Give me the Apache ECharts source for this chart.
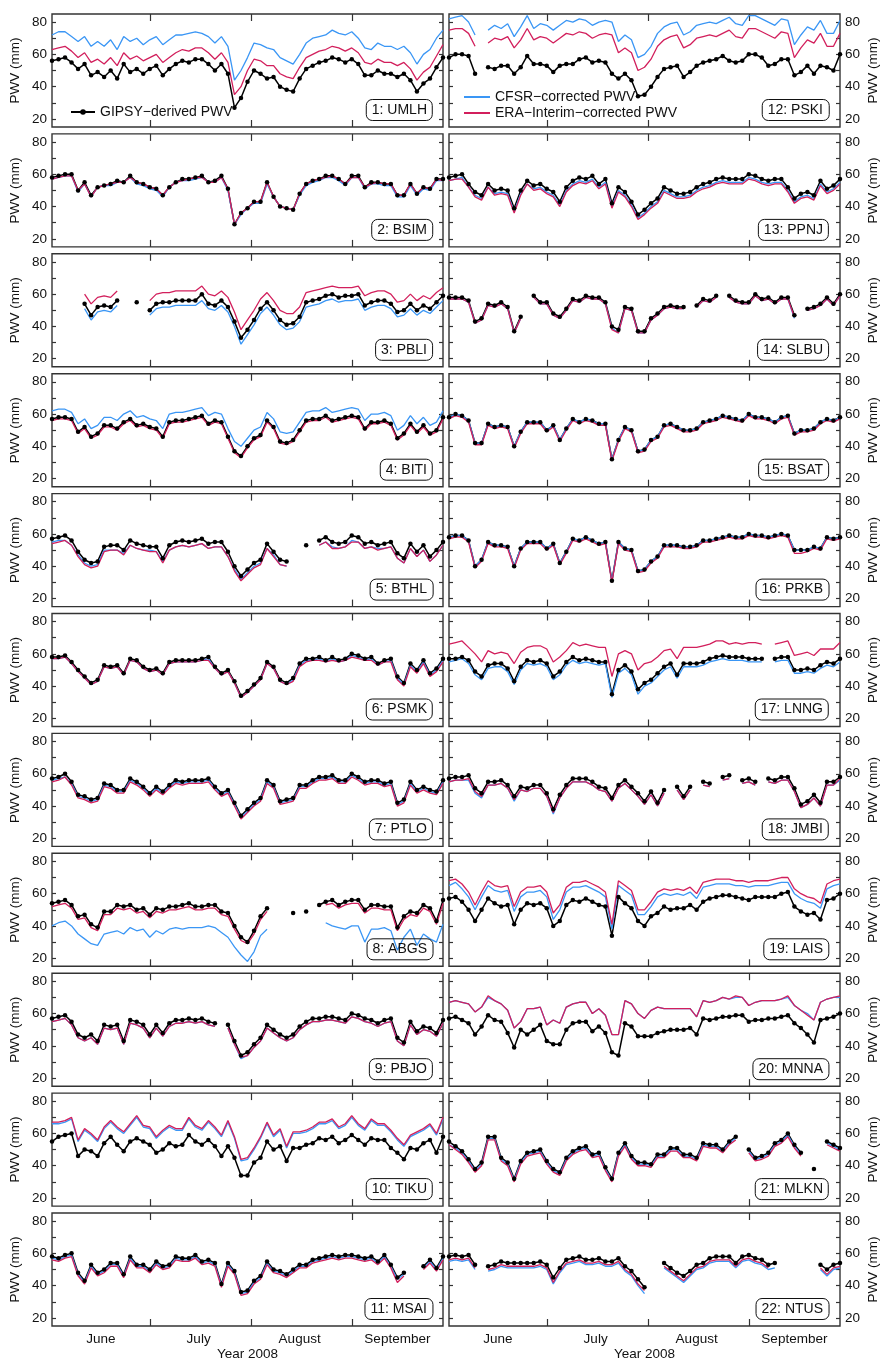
<!DOCTYPE html>
<html>
<head>
<meta charset="utf-8">
<script src="https://cdn.jsdelivr.net/npm/echarts@6/dist/echarts.min.js"></script>
<style>
  html, body { margin: 0; padding: 0; background: #fff; }
  #chart { width: 880px; height: 1359px; }
</style>
</head>
<body>
<div id="chart"></div>
<script>
// sampled every second day, day 1 = 1 June 2008
const days = Array.from({ length: 61 }, (_, i) => 1 + 2 * i);
const monthTicks = [31, 62, 93];
const monthMid = [16, 46, 77, 107];
const monthNames = ['June', 'July', 'August', 'September'];
const pwvTicks = [20, 30, 40, 50, 60, 70, 80];
const pwvLabels = [20, 40, 60, 80];
const n = null;

// 1: UMLH
const gipsy_UMLH = [56,57,58,55,51,54,47,49,46,50,45,54,49,51,48,51,53,47,51,54,56,55,57,57,54,50,54,48,27,33,43,50,48,45,46,40,38,37,45,51,53,55,56,58,57,55,57,54,47,47,50,48,48,46,48,44,37,42,45,52,58];
const cfsr_UMLH = [72,74,74,71,68,71,65,68,65,69,63,71,68,70,66,69,71,66,69,72,72,73,74,73,71,67,71,65,44,50,58,67,66,64,63,58,56,54,60,67,70,71,72,75,73,72,74,70,64,63,67,65,65,63,65,61,54,60,63,70,75];
const era_UMLH = [63,64,65,62,58,61,55,57,54,58,53,61,57,59,56,58,60,55,58,61,63,62,64,64,61,57,61,55,35,40,50,57,56,53,53,48,46,45,52,58,60,62,63,65,64,62,64,61,55,54,57,55,55,53,55,51,44,49,52,59,66];
// 2: BSIM
const gipsy_BSIM = [58,59,60,60,50,55,47,52,53,54,56,55,59,55,54,52,51,47,52,55,57,57,58,59,55,56,59,51,29,36,39,43,43,55,46,40,39,38,48,54,56,57,59,59,57,54,59,59,52,55,55,54,54,47,47,54,48,52,51,57,57];
const cfsr_BSIM = [57,58,59,59,49,54,46,52,53,53,55,55,58,54,53,51,50,46,52,55,56,56,57,58,55,55,58,50,29,35,39,42,42,54,46,40,39,38,47,53,55,56,58,58,56,53,58,58,51,54,54,53,53,46,46,53,47,51,50,56,56];
const era_BSIM = [57,58,59,59,50,54,46,52,53,54,55,55,58,55,54,52,51,47,52,55,56,57,58,58,55,55,58,51,29,36,39,43,43,55,46,40,39,38,48,54,56,57,58,59,57,54,58,58,52,54,55,54,54,47,47,54,48,52,51,57,56];
// 3: PBLI
const gipsy_PBLI = [n,n,n,n,n,54,47,52,53,52,56,n,n,55,n,50,54,55,55,56,56,56,56,60,54,53,56,52,43,33,38,44,51,55,50,44,41,42,46,55,56,57,59,60,58,59,59,60,53,55,56,56,54,49,50,54,50,53,51,55,59];
const cfsr_PBLI = [n,n,n,n,n,51,44,49,50,49,53,n,n,52,n,47,51,52,52,53,53,53,53,56,51,50,53,49,40,29,35,41,48,52,47,41,38,39,43,52,53,54,56,57,55,56,56,57,50,52,53,53,51,46,47,51,47,50,48,52,56];
const era_PBLI = [n,n,n,n,n,60,54,58,59,58,62,n,n,61,n,56,60,61,61,62,62,62,62,65,60,59,62,58,49,38,44,50,57,61,56,50,48,48,52,61,62,63,64,65,64,64,64,65,59,61,62,62,60,55,56,60,56,59,57,61,64];
// 4: BITI
const gipsy_BITI = [57,58,58,57,49,52,46,48,53,53,51,55,57,53,54,52,51,46,55,56,56,57,58,59,54,56,55,46,37,34,40,45,47,56,52,43,42,44,50,56,57,57,59,56,57,58,59,58,51,55,55,56,54,45,48,54,49,53,48,50,58];
const cfsr_BITI = [62,63,63,61,54,57,51,53,58,58,56,60,62,58,59,57,56,51,60,61,61,62,63,64,59,61,60,51,43,40,45,50,52,61,57,49,48,49,55,61,62,62,64,61,62,63,64,63,56,60,60,61,59,50,53,59,54,58,53,55,62];
const era_BITI = [56,57,57,56,48,51,45,47,52,52,50,54,56,52,53,51,50,45,54,55,55,56,57,58,53,55,54,45,36,33,39,44,46,55,51,42,41,43,49,55,56,56,58,55,56,57,58,57,50,54,54,55,53,44,47,53,48,52,47,49,57];
// 5: BTHL
const gipsy_BTHL = [57,58,59,56,49,44,42,43,52,53,53,50,56,54,53,52,52,45,53,55,56,55,56,57,54,55,55,49,40,34,38,42,44,54,49,44,43,n,n,53,n,56,58,55,54,55,59,58,54,55,53,54,55,48,45,54,49,53,46,50,55];
const cfsr_BTHL = [55,56,56,53,47,42,40,41,50,50,50,48,53,51,50,50,49,43,50,52,53,52,53,54,51,52,52,46,38,32,36,40,42,51,47,41,40,n,n,n,n,53,55,52,51,52,56,55,51,52,51,51,52,45,42,51,46,50,43,47,53];
const era_BTHL = [54,55,56,53,46,41,39,40,49,50,50,47,53,51,50,49,49,42,50,52,53,52,53,54,51,52,52,46,37,31,35,39,41,51,46,41,40,n,n,n,n,53,55,51,51,52,55,55,51,52,50,51,52,45,42,51,46,50,43,47,53];
// 6: PSMK
const gipsy_PSMK = [58,58,59,55,50,46,42,44,53,52,53,48,57,56,52,50,51,48,55,56,56,56,56,57,58,52,48,50,43,34,37,41,45,55,52,44,42,45,54,57,57,58,56,58,56,57,60,59,57,58,54,56,57,46,42,54,50,56,48,51,57];
const cfsr_PSMK = [57,57,58,54,49,45,41,43,52,51,52,47,56,55,51,49,50,47,54,55,55,55,55,56,57,51,47,49,42,33,36,40,44,54,51,43,41,44,53,56,56,57,55,57,55,56,59,58,56,57,53,55,56,45,41,53,49,55,47,50,56];
const era_PSMK = [57,57,58,54,49,45,41,43,52,51,52,47,56,55,51,49,50,47,54,55,55,55,55,56,56,51,47,49,42,33,36,40,44,54,51,43,41,43,52,55,56,56,55,56,55,56,58,57,56,56,53,55,55,44,40,52,48,54,46,49,55];
// 7: PTLO
const gipsy_PTLO = [57,58,60,55,47,46,44,45,54,53,50,50,57,55,52,48,52,49,53,56,55,56,56,56,57,52,48,50,42,34,38,42,45,56,53,43,44,45,53,53,56,58,58,59,56,56,60,58,55,56,56,54,55,42,44,55,50,52,50,49,56];
const cfsr_PTLO = [56,57,58,54,46,45,43,44,53,52,49,49,56,54,51,47,51,48,52,55,54,55,55,55,56,51,47,49,41,33,37,41,44,55,52,42,43,44,52,52,55,57,57,58,55,55,59,57,54,55,55,53,54,41,43,54,49,51,49,48,55];
const era_PTLO = [55,56,58,53,45,44,42,43,52,51,48,48,55,53,50,46,50,47,51,54,53,54,54,54,55,50,46,48,40,32,36,40,43,54,51,41,42,43,51,51,54,56,56,57,54,54,58,56,53,54,54,52,53,40,42,53,48,50,48,47,54];
// 8: ABGS
const gipsy_ABGS = [54,55,56,53,46,47,41,39,49,49,53,52,53,50,51,47,51,50,52,52,53,54,52,52,53,53,49,48,40,33,30,37,46,51,n,n,n,48,n,49,n,53,55,56,53,55,56,56,50,53,53,52,52,39,46,49,48,53,51,43,56];
const cfsr_ABGS = [40,42,43,40,35,32,29,28,35,36,37,35,39,37,38,33,37,35,38,39,38,39,39,39,40,39,36,33,27,22,18,24,34,38,n,n,n,n,n,n,n,n,42,40,39,38,40,40,30,38,38,39,37,25,33,38,28,35,32,30,41];
const era_ABGS = [52,53,54,51,44,45,39,37,47,47,51,50,51,48,49,45,49,48,50,50,51,52,50,50,51,51,47,46,38,31,29,35,44,49,n,n,n,n,n,n,n,n,53,54,51,53,54,54,48,51,51,50,50,37,44,47,46,51,49,41,54];
// 9: PBJO
const gipsy_PBJO = [57,58,59,55,47,45,47,43,53,52,53,43,56,55,53,47,53,48,54,56,56,57,56,57,55,54,n,53,43,34,36,41,45,53,50,47,45,47,52,55,57,57,58,58,57,56,60,59,57,56,54,56,57,45,42,55,49,52,51,48,56];
const cfsr_PBJO = [55,56,57,53,45,43,45,41,51,50,51,41,54,53,51,45,51,46,52,54,54,55,54,55,53,52,n,51,41,32,34,39,43,51,48,45,43,45,50,53,55,55,56,56,55,54,58,57,55,54,52,54,55,43,40,53,47,50,49,46,54];
const era_PBJO = [55,56,57,53,45,43,45,41,51,50,51,41,54,53,51,45,51,46,52,54,54,55,54,55,53,52,n,51,41,33,34,39,43,51,48,45,43,45,50,53,55,55,56,56,55,54,58,57,55,54,52,54,55,43,40,53,47,50,49,46,54];
// 10: TIKU
const gipsy_TIKU = [55,58,59,60,46,50,49,46,54,58,53,49,55,57,55,53,48,50,54,52,53,59,55,53,56,52,46,52,45,34,34,42,45,55,50,52,43,51,51,53,54,57,56,58,54,56,59,56,53,57,56,56,51,48,44,51,50,54,56,48,58];
const cfsr_TIKU = [66,66,67,69,55,62,59,55,63,67,63,60,65,70,64,63,57,61,64,62,62,69,64,62,67,63,58,67,57,43,44,50,57,66,58,62,51,60,60,61,63,66,66,68,63,65,70,65,62,68,65,65,61,56,52,58,60,62,65,59,69];
const era_TIKU = [67,67,68,70,56,63,60,56,64,68,64,61,66,71,65,64,58,62,65,63,63,70,65,63,68,64,59,68,58,44,45,51,58,67,59,63,52,61,61,62,64,67,67,69,64,66,71,66,63,69,66,66,62,57,53,59,61,63,66,60,70];
// 11: MSAI
const gipsy_MSAI = [58,57,59,60,48,43,53,48,50,54,54,47,58,53,53,50,55,52,53,58,57,57,59,55,56,54,41,54,49,36,37,43,46,55,50,49,47,50,53,53,56,57,58,59,58,59,59,58,57,58,55,59,53,45,48,n,n,52,56,51,58];
const cfsr_MSAI = [57,56,58,59,47,42,52,47,49,53,53,46,57,52,52,49,54,51,52,57,56,56,58,54,55,53,40,53,48,35,36,42,45,54,49,48,46,49,52,52,55,56,57,58,57,58,58,57,56,57,54,58,52,44,47,n,n,51,55,50,57];
const era_MSAI = [56,55,57,58,46,41,51,46,48,52,52,45,56,51,51,48,53,50,51,56,55,55,57,53,54,52,39,52,47,34,35,41,44,53,48,47,45,48,51,51,54,55,56,57,56,57,57,56,55,56,53,57,51,42,46,n,n,50,54,49,56];
// 12: PSKI
const gipsy_PSKI = [58,60,60,59,48,n,52,51,53,53,48,52,59,54,54,53,49,53,54,54,57,58,55,56,55,48,45,48,44,34,35,40,46,51,52,53,46,49,53,55,56,57,59,56,55,56,60,60,58,53,54,57,57,47,49,53,48,53,52,50,60];
const cfsr_PSKI = [82,83,84,80,72,n,75,78,76,79,71,77,84,76,79,78,75,78,81,80,82,81,78,80,81,80,68,72,69,58,60,65,73,77,79,80,72,74,78,79,80,79,81,83,79,78,84,84,82,80,78,82,81,66,72,77,75,81,73,73,81];
const era_PSKI = [75,76,76,73,65,n,67,70,69,71,64,69,76,69,71,70,67,70,73,72,74,73,70,72,73,72,61,64,61,50,52,57,65,69,71,72,64,66,70,71,72,71,73,75,71,70,76,76,74,72,70,74,73,58,64,69,67,73,65,65,73];
// 13: PPNJ
const gipsy_PPNJ = [58,59,60,54,49,47,54,50,51,50,39,50,56,53,54,51,49,43,52,56,58,57,59,54,57,42,52,49,43,35,38,42,45,52,50,48,48,49,52,54,55,57,58,57,57,57,60,59,57,56,57,57,52,45,48,49,47,56,51,53,57];
const cfsr_PPNJ = [56,57,58,52,47,45,52,48,49,48,37,48,54,51,52,49,47,41,50,54,56,55,57,52,55,40,50,47,41,33,36,40,43,50,48,46,46,47,50,52,53,55,56,55,55,55,58,57,55,54,55,55,50,43,46,47,45,54,49,51,55];
const era_PPNJ = [56,57,57,52,46,44,52,47,48,47,36,47,54,50,51,48,46,40,49,53,55,54,56,51,54,39,49,46,40,32,35,39,42,49,47,45,45,46,49,51,52,54,55,54,54,54,57,56,54,53,54,54,49,42,45,46,44,53,48,50,54];
// 14: SLBU
const gipsy_SLBU = [58,58,58,56,43,45,54,53,55,52,37,46,n,59,55,55,48,46,51,57,56,59,58,58,55,40,38,52,51,37,37,45,48,52,53,52,52,n,53,57,56,59,n,59,56,55,55,60,57,58,55,58,58,47,n,51,52,54,58,54,60];
const cfsr_SLBU = [57,57,57,55,42,44,53,52,54,51,36,45,n,58,54,54,47,45,50,56,55,58,57,57,54,39,36,51,50,36,36,44,47,51,52,51,51,n,52,56,55,58,n,58,55,54,54,59,56,57,54,57,57,45,n,50,51,53,57,53,59];
const era_SLBU = [57,57,57,55,42,44,53,52,54,51,36,45,n,58,54,54,47,45,50,56,55,58,57,57,54,38,36,51,50,36,36,44,47,51,52,51,51,n,52,56,55,58,n,58,55,54,54,59,56,57,54,57,57,46,n,50,51,53,57,53,59];
// 15: BSAT
const gipsy_BSAT = [58,60,59,56,42,42,54,52,53,52,40,49,55,55,55,50,53,44,51,57,55,57,56,54,54,32,44,52,50,37,38,44,46,53,54,52,50,50,51,55,56,57,59,58,57,56,60,58,58,57,55,58,59,48,50,50,51,55,57,56,58];
const cfsr_BSAT = [58,60,59,56,42,42,54,52,53,52,40,49,55,55,55,50,53,44,51,57,55,57,56,54,54,32,44,52,50,37,38,44,46,53,54,52,50,50,51,55,56,57,59,58,57,56,60,58,58,57,55,58,59,48,50,50,51,55,57,56,58];
const era_BSAT = [57,59,58,55,41,41,53,51,52,51,39,48,54,54,54,49,52,43,50,56,54,56,55,53,53,31,43,51,49,36,37,43,45,52,53,51,49,49,50,54,55,56,58,57,56,55,59,57,57,56,54,57,58,47,49,49,50,54,56,55,57];
// 16: PRKB
const gipsy_PRKB = [58,59,59,56,40,44,55,53,53,52,40,51,55,55,55,51,54,42,49,57,56,58,56,54,55,31,55,51,50,37,38,43,46,53,53,53,52,52,53,56,56,57,58,59,58,58,60,59,59,58,59,60,59,50,50,50,52,51,58,57,58];
const cfsr_PRKB = [58,59,59,56,40,44,55,53,53,52,40,51,55,55,55,51,54,42,49,57,56,58,56,54,55,31,55,51,50,37,38,43,46,53,53,53,52,52,53,56,56,57,58,59,58,58,60,59,59,58,59,60,59,50,50,50,52,51,58,57,58];
const era_PRKB = [57,58,58,55,39,43,54,52,52,51,39,50,54,54,54,50,53,41,48,56,55,57,55,53,54,30,54,50,49,36,37,42,45,52,52,52,51,51,52,55,55,56,57,58,57,57,59,58,58,57,58,59,58,48,48,49,51,50,57,56,57];
// 17: LNNG
const gipsy_LNNG = [57,57,58,56,49,46,53,54,54,51,43,52,56,55,56,54,46,49,55,58,56,57,56,55,55,35,50,53,49,38,42,44,48,52,54,47,54,54,54,55,57,58,59,58,58,58,57,57,57,n,57,58,58,50,50,51,50,53,55,54,57];
const cfsr_LNNG = [55,56,57,54,47,44,51,52,52,49,41,50,54,53,54,52,44,47,53,56,54,55,54,53,54,33,48,51,47,35,40,42,46,50,52,45,52,52,52,53,55,56,57,56,56,56,55,55,55,n,55,56,56,48,48,49,48,51,53,52,55];
const era_LNNG = [66,67,68,64,60,55,62,60,61,60,54,61,64,65,65,63,55,58,62,67,65,66,65,64,64,46,60,62,60,50,54,55,58,62,63,57,64,64,64,65,66,68,68,66,67,66,67,67,66,n,66,67,68,59,60,61,59,63,63,63,67];
// 18: JMBI
const gipsy_JMBI = [57,58,58,59,51,48,55,55,56,53,46,52,51,53,53,48,38,47,53,57,57,57,55,52,51,45,53,56,52,48,43,49,42,50,n,52,46,52,n,55,54,n,58,59,n,56,57,55,n,57,56,58,58,51,41,43,47,42,55,55,58];
const cfsr_JMBI = [55,56,56,56,48,45,53,53,54,51,43,50,49,51,51,46,35,45,51,55,55,55,53,50,49,43,51,54,50,46,41,47,40,48,n,50,44,50,n,53,52,n,56,57,n,54,55,53,n,55,54,56,56,49,39,41,45,40,53,53,56];
const era_JMBI = [55,56,56,57,49,46,53,53,54,51,44,50,49,51,51,46,36,45,51,55,55,55,53,50,49,43,51,54,50,46,41,47,40,48,n,50,44,50,n,53,52,n,56,57,n,54,55,53,n,55,54,56,56,49,39,41,45,40,53,53,57];
// 19: LAIS
const gipsy_LAIS = [57,58,55,50,43,50,57,54,52,53,41,50,54,53,54,51,40,43,53,56,55,57,55,53,52,34,58,54,51,43,40,46,48,52,50,51,51,53,50,55,57,58,59,59,58,57,56,58,58,58,58,60,61,52,49,47,48,44,56,57,60];
const cfsr_LAIS = [65,67,63,58,50,58,65,62,61,62,49,58,61,61,62,58,44,50,61,64,64,65,63,61,58,38,65,62,59,47,47,52,58,60,59,60,59,61,57,64,65,66,66,66,65,65,64,65,65,65,66,67,67,60,57,55,54,51,63,65,66];
const era_LAIS = [68,69,66,61,53,61,68,65,64,65,52,61,64,64,65,61,48,53,64,67,67,68,66,64,61,41,68,65,62,50,50,55,61,63,62,63,62,64,60,67,68,69,69,69,68,68,67,68,68,68,69,70,70,63,60,58,57,54,66,68,69];
// 20: MNNA
const gipsy_MNNA = [57,58,56,54,47,52,59,56,55,48,39,50,47,50,53,43,41,41,50,54,55,55,49,52,48,36,34,54,52,46,46,46,48,49,50,50,50,51,47,57,56,57,58,58,59,59,55,56,56,57,57,58,59,54,51,47,42,56,57,58,60];
const cfsr_MNNA = [67,68,67,66,61,64,70,68,66,62,51,55,63,63,64,53,56,54,64,66,67,67,60,63,59,47,47,68,66,60,57,62,64,63,63,63,63,63,58,68,67,68,70,69,70,70,65,67,68,68,68,69,70,65,62,60,56,67,69,70,70];
const era_MNNA = [67,68,67,66,61,64,71,68,66,62,51,55,63,63,64,53,56,54,64,66,67,67,60,63,59,47,47,68,66,60,57,62,64,63,63,63,63,63,58,68,67,68,70,69,71,70,65,67,68,68,68,69,71,65,62,59,56,67,69,70,71];
// 21: MLKN
const gipsy_MLKN = [55,52,49,44,38,42,58,58,45,42,32,43,48,49,50,43,38,36,45,49,51,52,47,48,39,32,48,54,46,42,42,41,47,47,51,51,47,47,45,54,53,53,50,55,58,n,50,45,46,48,54,56,60,53,48,n,38,n,55,53,51];
const cfsr_MLKN = [53,51,48,43,37,41,57,57,44,41,31,42,47,48,49,42,37,35,44,48,50,51,46,47,38,31,47,53,45,41,41,40,46,46,50,50,46,46,44,53,52,52,49,54,57,n,49,44,45,47,53,55,59,52,47,n,n,n,54,52,50];
const era_MLKN = [53,50,47,42,36,40,56,56,43,40,30,41,46,47,48,41,36,34,43,47,49,50,45,46,37,30,46,52,44,40,40,39,45,45,49,49,45,45,43,52,51,51,48,53,56,n,48,43,44,46,52,54,58,51,46,n,n,n,53,51,49];
// 22: NTUS
const gipsy_NTUS = [58,59,58,59,53,n,52,53,55,54,54,54,54,54,55,53,45,51,56,57,58,56,56,57,55,55,57,52,49,44,39,n,n,54,51,48,46,49,53,54,57,58,58,58,54,58,59,57,56,53,54,n,n,n,n,n,n,53,50,53,54];
const cfsr_NTUS = [55,56,55,56,50,n,49,50,52,51,51,51,51,51,52,50,41,48,53,54,55,53,53,54,52,52,54,49,46,40,35,n,n,51,48,45,42,46,50,51,54,55,55,55,51,55,56,54,53,50,51,n,n,n,n,n,n,50,46,50,51];
const era_NTUS = [56,57,56,57,51,n,50,51,53,52,52,52,52,52,53,51,42,49,54,55,56,54,54,55,53,53,55,50,47,41,37,n,n,52,49,46,43,47,51,52,55,56,56,56,52,56,57,55,54,51,n,n,n,n,n,n,n,51,47,51,52];

const panels = [
  ['1: UMLH', gipsy_UMLH, cfsr_UMLH, era_UMLH],
  ['2: BSIM', gipsy_BSIM, cfsr_BSIM, era_BSIM],
  ['3: PBLI', gipsy_PBLI, cfsr_PBLI, era_PBLI],
  ['4: BITI', gipsy_BITI, cfsr_BITI, era_BITI],
  ['5: BTHL', gipsy_BTHL, cfsr_BTHL, era_BTHL],
  ['6: PSMK', gipsy_PSMK, cfsr_PSMK, era_PSMK],
  ['7: PTLO', gipsy_PTLO, cfsr_PTLO, era_PTLO],
  ['8: ABGS', gipsy_ABGS, cfsr_ABGS, era_ABGS],
  ['9: PBJO', gipsy_PBJO, cfsr_PBJO, era_PBJO],
  ['10: TIKU', gipsy_TIKU, cfsr_TIKU, era_TIKU],
  ['11: MSAI', gipsy_MSAI, cfsr_MSAI, era_MSAI],
  ['12: PSKI', gipsy_PSKI, cfsr_PSKI, era_PSKI],
  ['13: PPNJ', gipsy_PPNJ, cfsr_PPNJ, era_PPNJ],
  ['14: SLBU', gipsy_SLBU, cfsr_SLBU, era_SLBU],
  ['15: BSAT', gipsy_BSAT, cfsr_BSAT, era_BSAT],
  ['16: PRKB', gipsy_PRKB, cfsr_PRKB, era_PRKB],
  ['17: LNNG', gipsy_LNNG, cfsr_LNNG, era_LNNG],
  ['18: JMBI', gipsy_JMBI, cfsr_JMBI, era_JMBI],
  ['19: LAIS', gipsy_LAIS, cfsr_LAIS, era_LAIS],
  ['20: MNNA', gipsy_MNNA, cfsr_MNNA, era_MNNA],
  ['21: MLKN', gipsy_MLKN, cfsr_MLKN, era_MLKN],
  ['22: NTUS', gipsy_NTUS, cfsr_NTUS, era_NTUS],
];

const NAME_G = 'GIPSY\u2212derived PWV';
const NAME_C = 'CFSR\u2212corrected PWV';
const NAME_E = 'ERA\u2212Interim\u2212corrected PWV';
const FONT = "'Liberation Sans', Arial, sans-serif";
const FRAME = '#333';
const BLUE = '#3a96f5';
const RED = '#d21f5c';

const W = 391, H = 113, TOP0 = 14, PITCH = 119.9;
const LEFTS = [52, 449];

const grid = [], xAxis = [], yAxis = [], series = [], title = [];

const pairs = arr => days.map((d, i) => [d, arr[i]]);

panels.forEach((p, k) => {
  const col = k < 11 ? 0 : 1;
  const row = k % 11;
  const top = TOP0 + row * PITCH;
  const bottomRow = row === 10;

  grid.push({
    left: LEFTS[col], top: top, width: W, height: H, outerBoundsMode: 'none',
    show: true, borderColor: FRAME, borderWidth: 1.4
  });

  const xTick = { show: true, inside: true, length: 7, customValues: monthTicks, lineStyle: { color: FRAME, width: 1.2 } };
  xAxis.push({
    gridIndex: k, type: 'value', min: 1, max: 121, position: 'bottom',
    axisLine: { show: false, onZero: false }, splitLine: { show: false }, axisTick: xTick,
    axisLabel: {
      show: bottomRow, customValues: monthMid, margin: 6,
      formatter: v => monthNames[monthMid.indexOf(v)],
      fontSize: 13.5, color: '#111', fontFamily: FONT
    },
    name: bottomRow ? 'Year 2008' : '', nameLocation: 'middle', nameGap: 19,
    nameTextStyle: { fontSize: 13.5, color: '#111', fontFamily: FONT }
  });
  xAxis.push({
    gridIndex: k, type: 'value', min: 1, max: 121, position: 'top',
    axisLine: { show: false, onZero: false }, splitLine: { show: false }, axisTick: xTick,
    axisLabel: { show: false }
  });

  ['left', 'right'].forEach((side, s) => {
    const lab = s === col;
    yAxis.push({
      gridIndex: k, type: 'value', min: 15, max: 85, position: side,
      axisLine: { show: false, onZero: false }, splitLine: { show: false },
      axisTick: { show: true, inside: true, length: 4, customValues: pwvTicks, lineStyle: { color: FRAME, width: 1.2 } },
      axisLabel: { show: lab, customValues: pwvLabels, margin: 5, fontSize: 13.5, color: '#111', fontFamily: FONT },
      name: lab ? 'PWV (mm)' : '', nameLocation: 'middle', nameRotate: 90, nameGap: col === 0 ? 30 : 26,
      nameTextStyle: { fontSize: 13.5, color: '#111', fontFamily: FONT }
    });
  });

  const xi = 2 * k, yi = 2 * k;
  series.push({
    type: 'line', name: NAME_G, xAxisIndex: xi, yAxisIndex: yi, data: pairs(p[1]),
    symbol: 'circle', symbolSize: 4.5, showSymbol: true, showAllSymbol: true,
    lineStyle: { color: '#000', width: 1.5 }, itemStyle: { color: '#000' }, animation: false
  });
  series.push({
    type: 'line', name: NAME_C, xAxisIndex: xi, yAxisIndex: yi, data: pairs(p[2]),
    symbol: 'none', lineStyle: { color: BLUE, width: 1.3 }, itemStyle: { color: BLUE }, animation: false
  });
  series.push({
    type: 'line', name: NAME_E, xAxisIndex: xi, yAxisIndex: yi, data: pairs(p[3]),
    symbol: 'none', lineStyle: { color: RED, width: 1.3 }, itemStyle: { color: RED }, animation: false
  });

  title.push({
    text: p[0], right: col === 0 ? 447 : 51, top: top + 85,
    padding: [3, 6], borderWidth: 1, borderColor: '#111', borderRadius: 6,
    textStyle: { fontSize: 14, lineHeight: 16, fontWeight: 'normal', color: '#111', fontFamily: FONT }
  });
});

const option = {
  backgroundColor: '#fff',
  animation: false,
  title: title,
  legend: [
    {
      data: [NAME_G], left: 70, top: 104, padding: 0, itemWidth: 24, itemHeight: 7,
      textStyle: { fontSize: 14, lineHeight: 16, color: '#111', fontFamily: FONT }, selectedMode: false
    },
    {
      data: [{ name: NAME_C, icon: 'rect' }, { name: NAME_E, icon: 'rect' }],
      orient: 'vertical', left: 464, top: 89, padding: 0,
      itemWidth: 26, itemHeight: 2, itemGap: 0,
      textStyle: { fontSize: 14, lineHeight: 16, color: '#111', fontFamily: FONT }, selectedMode: false
    }
  ],
  grid: grid,
  xAxis: xAxis,
  yAxis: yAxis,
  series: series
};

const chart = echarts.init(document.getElementById('chart'), null, { renderer: 'canvas' });
chart.setOption(option);
</script>
</body>
</html>
